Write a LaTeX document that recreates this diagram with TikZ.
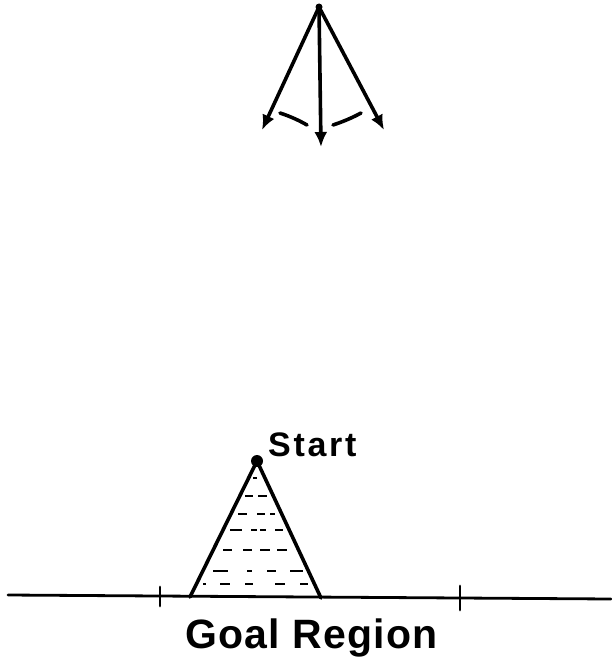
\documentclass[tikz,border=0pt]{standalone}
\usepackage{fontspec}
\setmainfont{Liberation Sans}
\usetikzlibrary{arrows.meta}
\begin{document}
\begin{tikzpicture}[x=1pt,y=-1pt,
  ink/.style={line width=3.6pt,line cap=round},
  thin ink/.style={line width=2.8pt,line cap=round},
  hatch/.style={line width=2.4pt},
  arr/.style={ink,-{Latex[length=15pt,width=13pt]}},
  lbl/.style={inner sep=0pt,anchor=base west}]
\useasboundingbox (0,0) rectangle (611,669);
% top pendulum arrows
\coordinate (apex) at (319,7);
\coordinate (l) at (262,130);
\coordinate (m) at (321,147);
\coordinate (r) at (384,130);
\fill (apex) circle (3.5pt);
\draw[arr] (apex) -- (l);
\draw[arr] (apex) -- (m);
\draw[arr] (apex) -- (r);
\draw[ink] (280,113) .. controls (292,117) and (300,121) .. (307,125);
\draw[ink] (333,125) .. controls (342,122) and (352,118) .. (361,113);
% ground line
\coordinate (gl) at (8,595);
\coordinate (gr) at (611,599);
\draw[thin ink] (gl) -- (gr);
\coordinate (t1a) at (160,587); \coordinate (t1b) at (160,606);
\coordinate (t2a) at (460,586); \coordinate (t2b) at (460,610);
\draw[thin ink] (t1a) -- (t1b);
\draw[thin ink] (t2a) -- (t2b);
% triangle
\coordinate (s) at (257,461);
\coordinate (bl) at (190,597);
\coordinate (br) at (321,598);
\draw[ink,line join=round] (bl) -- (s) -- (br);
\fill (s) circle (6pt);
% hatching
\foreach \y/\a/\b in {
 478/253/257,
 496/245/253, 496/258/267,
 514/238/247, 514/257/265, 514/270/275,
 530/230/242, 530/251/257, 530/260/266, 530/275/283,
 550/223/232, 550/243/252, 550/260/270, 550/277/287,
 571/213/228, 571/247/252, 571/267/276, 571/290/303,
 584/203/206, 584/220/230, 584/245/253, 584/275/285, 584/300/308}
  \draw[hatch] (\a,\y) -- (\b,\y);
% labels
\node[lbl] (start) at (268,456) {\fontsize{34}{34}\selectfont\bfseries\addfontfeatures{LetterSpace=8}Start};
\node[lbl] (goal) at (185,648) {\fontsize{41}{41}\selectfont\bfseries\addfontfeatures{LetterSpace=3}Goal Region};
\end{tikzpicture}
\end{document}
